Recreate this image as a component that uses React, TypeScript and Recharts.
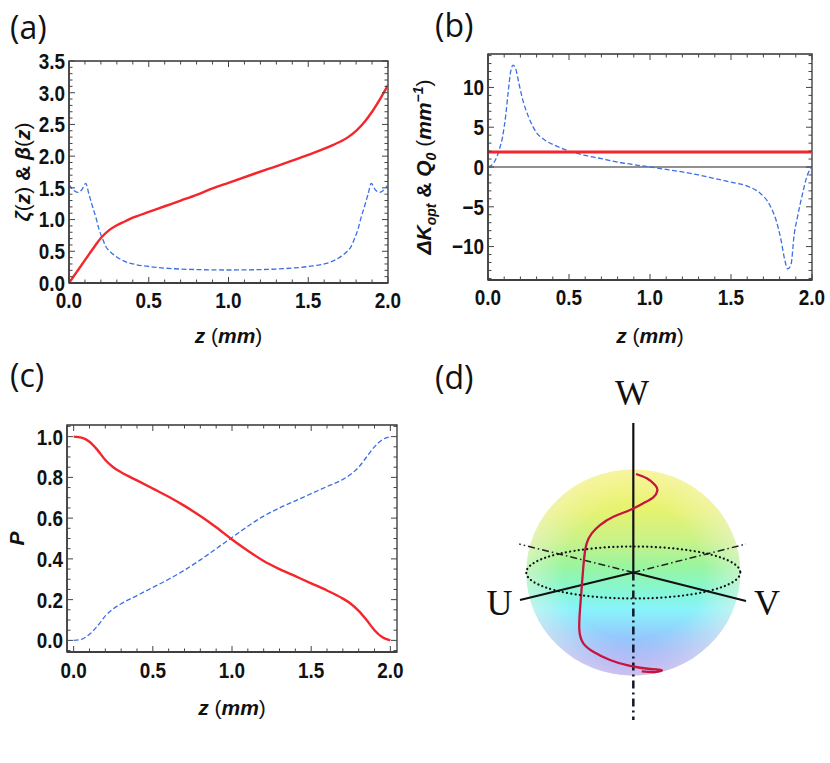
import React from "react";
import { Line, LineChart, ReferenceArea, ReferenceDot, ReferenceLine, XAxis, YAxis } from "recharts";

// (a) zeta(z) and beta(z)
const zetaZ = [0, 0.05, 0.1, 0.15, 0.2, 0.25, 0.3, 0.35, 0.4, 0.5, 0.6, 0.7, 0.8, 0.9, 1.0, 1.25, 1.5, 1.65, 1.75, 1.8, 1.85, 1.9, 1.95, 2.0];
const zetaVal = [0, 0.18, 0.36, 0.54, 0.71, 0.83, 0.91, 0.97, 1.03, 1.12, 1.21, 1.3, 1.39, 1.49, 1.58, 1.8, 2.02, 2.17, 2.3, 2.4, 2.53, 2.7, 2.9, 3.12];
const betaZ = [0, 0.03, 0.055, 0.08, 0.105, 0.125, 0.147, 0.17, 0.189, 0.21, 0.23, 0.26, 0.294, 0.35, 0.42, 0.5, 0.6, 0.75, 1.0, 1.25, 1.4, 1.5, 1.58, 1.65, 1.706, 1.74, 1.77, 1.79, 1.811, 1.83, 1.853, 1.875, 1.895, 1.92, 1.945, 1.97, 2.0];
const betaVal = [1.55, 1.46, 1.43, 1.47, 1.57, 1.4, 1.21, 1.02, 0.84, 0.7, 0.58, 0.49, 0.42, 0.34, 0.29, 0.26, 0.235, 0.215, 0.205, 0.215, 0.235, 0.26, 0.29, 0.34, 0.42, 0.49, 0.58, 0.7, 0.84, 1.02, 1.21, 1.4, 1.57, 1.47, 1.43, 1.46, 1.55];

// (b) delta K_opt and Q0
const dkZ = [0, 0.02, 0.045, 0.07, 0.09, 0.11, 0.125, 0.14, 0.155, 0.17, 0.19, 0.21, 0.25, 0.3, 0.35, 0.42, 0.5, 0.6, 0.7, 0.8, 0.9, 1.0, 1.1, 1.2, 1.3, 1.4, 1.5, 1.6, 1.68, 1.74, 1.78, 1.81, 1.83, 1.85, 1.87, 1.89, 1.91, 1.94, 1.97, 2.0];
const dkVal = [0, 0.2, 0.84, 2.2, 3.8, 6.6, 9.5, 12.0, 12.8, 12.4, 10.6, 8.8, 6.3, 4.3, 3.4, 2.65, 2.0, 1.45, 1.05, 0.62, 0.3, 0, -0.3, -0.62, -1.0, -1.45, -1.9, -2.4, -3.3, -4.8, -6.8, -9.3, -11.5, -12.8, -12.3, -8.5, -6.3, -3.5, -1.1, 0];
const q0Z = [0, 2];
const q0Val = [1.9, 1.9];

// (c) populations
const pZ = [0, 0.05, 0.1, 0.15, 0.2, 0.25, 0.3, 0.4, 0.5, 0.6, 0.7, 0.8, 0.9, 1.0, 1.1, 1.2, 1.3, 1.4, 1.5, 1.6, 1.7, 1.75, 1.8, 1.85, 1.9, 1.95, 2.0];
const pRed = [1.0, 0.995, 0.975, 0.935, 0.885, 0.85, 0.825, 0.785, 0.745, 0.705, 0.66, 0.61, 0.555, 0.495, 0.44, 0.39, 0.35, 0.315, 0.28, 0.245, 0.205, 0.18, 0.145, 0.1, 0.05, 0.015, 0];
const pBlue = [0, 0.005, 0.03, 0.07, 0.12, 0.155, 0.18, 0.22, 0.26, 0.3, 0.345, 0.395, 0.45, 0.505, 0.56, 0.61, 0.65, 0.685, 0.72, 0.755, 0.79, 0.815, 0.85, 0.9, 0.95, 0.985, 1.0];

// (d) trajectory on the sphere (projected, sphere radius = 1)
const pathU = [0.026, 0.128, 0.207, 0.229, 0.19, 0.095, -0.031, -0.19, -0.317, -0.396, -0.444, -0.47, -0.491, -0.508, -0.514, -0.476, -0.381, -0.222, -0.031, 0.159, 0.27, 0.207, 0.08];
const pathW = [0.938, 0.897, 0.833, 0.779, 0.716, 0.659, 0.595, 0.531, 0.452, 0.373, 0.278, 0.119, -0.135, -0.357, -0.548, -0.674, -0.754, -0.833, -0.89, -0.919, -0.929, -0.948, -0.941];
const solidAxes = [
  [0, 1.424, 0, 0],
  [-1.079, -0.262, 0, 0],
  [1.073, -0.271, 0, 0],
];
const backAxes = [
  [0, 0, 1.073, 0.271],
  [0, 0, -1.086, 0.271],
];
const downAxis = [0, 0, 0, -1.405];
const axisNames = ["W", "U", "V"];
const axisNameU = [-0.012, -1.274, 1.273];
const axisNameW = [1.719, -0.281, -0.281];

const zMajor = [0, 0.5, 1.0, 1.5, 2.0];
const aMajor = [0, 0.5, 1.0, 1.5, 2.0, 2.5, 3.0, 3.5];
const bMajor = [-10, -5, 0, 5, 10];
const cMajor = [0, 0.2, 0.4, 0.6, 0.8, 1.0];

const RED = "#f4262b";
const BLUE = "#3b6fe6";
const AXIS = { stroke: "#333", strokeWidth: 1.3 };
const SPHERE_X: [number, number] = [-1.841, 1.873];
const SPHERE_Y: [number, number] = [-1.814, 2.214];

const range = (from: number, to: number, step: number) => {
  const out: number[] = [];
  for (let v = from; v <= to + 1e-9; v += step) out.push(Math.round(v * 1000) / 1000);
  return out;
};
const rows = (xs: number[], ys: number[]) => xs.map((z, i) => ({ z, v: ys[i] }));

const TICK_SIZE = 22;
const TICK_FONT = {
  fontFamily: "'Liberation Sans', Arial, sans-serif",
  fontWeight: 700,
  fontSize: TICK_SIZE,
  fill: "#111",
};
const TITLE_FONT = {
  fontFamily: "'Liberation Sans', Arial, sans-serif",
  fontWeight: 700,
  fontSize: 21,
  fill: "#111",
};

// squeeze the Arial-like digits a bit, the original uses a narrow bold face
const narrowWidth = (s: string) =>
  s.split("").reduce((w, c) => w + (c === "." ? 0.278 : c === "\u2212" ? 0.584 : 0.556), 0) * TICK_SIZE * 0.86;

const fmt1 = (v: number) => v.toFixed(1);
const fmtInt = (v: number) => (v < 0 ? "\u2212" + Math.abs(v) : String(v));

function makeTick(side: string, majors: number[], span: number, fmt: (v: number) => string, gap: number) {
  return (p: any) => {
    const v = Number(p.payload.value);
    const major = majors.some((m) => Math.abs(m - v) < 1e-6);
    const len = major ? 6 : 3.5;
    const { x, y } = p;
    const label = fmt(v);
    if (side === "bottom") {
      return (
        <g>
          <line x1={x} y1={y} x2={x} y2={y - len} stroke="#444" strokeWidth={1} />
          <line x1={x} y1={y - span} x2={x} y2={y - span + len} stroke="#444" strokeWidth={1} />
          {major ? (
            <text x={x} y={y + gap} dy="0.36em" textAnchor="middle" textLength={narrowWidth(label)} lengthAdjust="spacingAndGlyphs" {...TICK_FONT}>
              {label}
            </text>
          ) : null}
        </g>
      );
    }
    return (
      <g>
        <line x1={x} y1={y} x2={x + len} y2={y} stroke="#444" strokeWidth={1} />
        <line x1={x + span} y1={y} x2={x + span - len} y2={y} stroke="#444" strokeWidth={1} />
        {major ? (
          <text x={x - 4} y={y} dy="0.36em" textAnchor="end" textLength={narrowWidth(label)} lengthAdjust="spacingAndGlyphs" {...TICK_FONT}>
            {label}
          </text>
        ) : null}
      </g>
    );
  };
}

const XTitle = ({ vb, dy }: any) => (
  <text x={vb.x + vb.width / 2} y={vb.y + dy} dy="0.36em" textAnchor="middle" {...TITLE_FONT}>
    <tspan fontStyle="italic">z</tspan>
    <tspan fontWeight={400}> (</tspan>
    <tspan fontStyle="italic">mm</tspan>
    <tspan fontWeight={400}>)</tspan>
  </text>
);

interface PanelProps {
  left: number;
  top: number;
  width: number;
  height: number;
  margin: { top: number; right: number; bottom: number; left: number };
  yAxisWidth: number;
  xAxisHeight: number;
  xDomain: [number, number];
  yDomain: [number, number];
  xMinor: number[];
  yMajor: number[];
  yMinor: number[];
  yFmt: (v: number) => string;
  xTickGap: number;
  xTitleDy: number;
  yTitleX: number;
  yTitle: React.ReactNode;
  children: React.ReactNode;
}

function Panel(p: PanelProps) {
  const plotW = p.width - p.margin.left - p.margin.right - p.yAxisWidth;
  const plotH = p.height - p.margin.top - p.margin.bottom - p.xAxisHeight;
  return (
    <div style={{ position: "absolute", left: p.left, top: p.top }}>
      <LineChart width={p.width} height={p.height} margin={p.margin}>
        <XAxis
          type="number"
          dataKey="z"
          domain={p.xDomain}
          ticks={p.xMinor}
          interval={0}
          tickLine={false}
          tickSize={0}
          tickMargin={0}
          axisLine={AXIS}
          height={p.xAxisHeight}
          allowDataOverflow
          tick={makeTick("bottom", zMajor, plotH, fmt1, p.xTickGap)}
          label={(lp: any) => <XTitle vb={lp.viewBox} dy={p.xTitleDy} />}
        />
        <YAxis
          type="number"
          domain={p.yDomain}
          ticks={p.yMinor}
          interval={0}
          tickLine={false}
          tickSize={0}
          tickMargin={0}
          axisLine={AXIS}
          width={p.yAxisWidth}
          allowDataOverflow
          tick={makeTick("left", p.yMajor, plotW, p.yFmt, 0)}
          label={(lp: any) => {
            const vb = lp.viewBox;
            const cx = vb.x + p.yTitleX;
            const cy = vb.y + vb.height / 2;
            return (
              <text
                x={cx}
                y={cy}
                dy="0.36em"
                textAnchor="middle"
                transform={`rotate(-90 ${cx} ${cy})`}
                {...TITLE_FONT}
              >
                {p.yTitle}
              </text>
            );
          }}
        />
        <ReferenceArea
          x1={p.xDomain[0]}
          x2={p.xDomain[1]}
          y1={p.yDomain[0]}
          y2={p.yDomain[1]}
          fill="none"
          stroke="#333"
          strokeWidth={1.3}
          ifOverflow="visible"
        />
        {p.children}
      </LineChart>
    </div>
  );
}

const SphereShape = (p: any) => (
  <g>
    <defs>
      <linearGradient id="sphereFill" x1="0" y1="0" x2="0" y2="1">
        <stop offset="0" stopColor="#f0f566" />
        <stop offset="0.2" stopColor="#e6f270" />
        <stop offset="0.35" stopColor="#c8f28a" />
        <stop offset="0.47" stopColor="#99f59e" />
        <stop offset="0.58" stopColor="#86f7d0" />
        <stop offset="0.68" stopColor="#88f3fb" />
        <stop offset="0.8" stopColor="#93cdfd" />
        <stop offset="0.92" stopColor="#9eaaf8" />
        <stop offset="1" stopColor="#a596f4" />
      </linearGradient>
      <radialGradient id="sphereShade" cx="0.5" cy="0.5" r="0.5">
        <stop offset="0.65" stopColor="#fff8f0" stopOpacity="0" />
        <stop offset="1" stopColor="#fff4e8" stopOpacity="0.45" />
      </radialGradient>
    </defs>
    <ellipse cx={p.cx} cy={p.cy} rx={107} ry={103} fill="url(#sphereFill)" />
    <ellipse cx={p.cx} cy={p.cy} rx={107} ry={103} fill="url(#sphereShade)" />
  </g>
);

const EquatorShape = (p: any) => (
  <ellipse
    cx={p.cx}
    cy={p.cy}
    rx={107}
    ry={26}
    fill="none"
    stroke="#111"
    strokeWidth={2.2}
    strokeDasharray="0.1 4.2"
    strokeLinecap="round"
  />
);

const nameShape = (name: string) => (p: any) => (
  <text
    x={p.cx}
    y={p.cy}
    dy="0.35em"
    textAnchor="middle"
    fontFamily="'Liberation Serif', 'Times New Roman', serif"
    fontSize={36}
    fill="#111"
  >
    {name}
  </text>
);

const SPHERE_BOX = { position: "absolute" as const, left: 440, top: 340 };
const NO_MARGIN = { top: 0, right: 0, bottom: 0, left: 0 };

function SpherePanel() {
  const data = pathU.map((u, i) => ({ u, w: pathW[i] }));
  return (
    <>
      {/* back layer: the shaded sphere and its equator */}
      <div style={SPHERE_BOX}>
        <LineChart width={390} height={423} margin={NO_MARGIN} data={data}>
          <XAxis type="number" dataKey="u" domain={SPHERE_X} hide allowDataOverflow />
          <YAxis type="number" domain={SPHERE_Y} hide allowDataOverflow />
          <ReferenceDot x={0} y={0} r={1} shape={SphereShape} ifOverflow="visible" />
        </LineChart>
      </div>
      {/* front layer: axes, trajectory, names */}
      <div style={SPHERE_BOX}>
        <LineChart width={390} height={423} margin={NO_MARGIN} data={data}>
          <XAxis type="number" dataKey="u" domain={SPHERE_X} hide allowDataOverflow />
          <YAxis type="number" domain={SPHERE_Y} hide allowDataOverflow />
          <ReferenceDot x={0} y={0} r={1} shape={EquatorShape} ifOverflow="visible" />
          {backAxes.map((s, i) => (
            <ReferenceLine
              key={"b" + i}
              segment={[{ x: s[0], y: s[1] }, { x: s[2], y: s[3] }]}
              stroke="#222"
              strokeWidth={1.5}
              strokeDasharray="7 3 1.5 3"
              ifOverflow="visible"
            />
          ))}
          <ReferenceLine
            segment={[{ x: downAxis[0], y: downAxis[1] }, { x: downAxis[2], y: downAxis[3] }]}
            stroke="#101828"
            strokeWidth={2.5}
            strokeDasharray="8 4 2 4"
            ifOverflow="visible"
          />
          {solidAxes.map((s, i) => (
            <ReferenceLine
              key={"s" + i}
              segment={[{ x: s[0], y: s[1] }, { x: s[2], y: s[3] }]}
              stroke="#111"
              strokeWidth={2.2}
              ifOverflow="visible"
            />
          ))}
          <Line
            dataKey="w"
            type="natural"
            stroke="#c8143c"
            strokeWidth={2.3}
            dot={false}
            isAnimationActive={false}
          />
          {axisNames.map((n, i) => (
            <ReferenceDot key={n} x={axisNameU[i]} y={axisNameW[i]} r={1} shape={nameShape(n)} ifOverflow="visible" />
          ))}
        </LineChart>
      </div>
    </>
  );
}

const LETTER = {
  position: "absolute" as const,
  fontFamily: "'Open Sans', 'Noto Sans', sans-serif",
  fontSize: 32,
  lineHeight: 1,
  color: "#111",
};

export default function App() {
  return (
    <div style={{ position: "absolute", left: 0, top: 0, width: 830, height: 763, background: "#fff" }}>
      <div style={{ ...LETTER, left: 10, top: 11 }}>(a)</div>
      <div style={{ ...LETTER, left: 435, top: 9 }}>(b)</div>
      <div style={{ ...LETTER, left: 10, top: 359 }}>(c)</div>
      <div style={{ ...LETTER, left: 435, top: 361 }}>(d)</div>

      <Panel
        left={0}
        top={0}
        width={415}
        height={350}
        margin={{ top: 61, right: 27, bottom: 0, left: 0 }}
        yAxisWidth={69}
        xAxisHeight={67}
        xDomain={[0, 2]}
        yDomain={[0, 3.5]}
        xMinor={range(0, 2, 0.1)}
        yMajor={aMajor}
        yMinor={range(0, 3.5, 0.1)}
        yFmt={fmt1}
        xTickGap={17}
        xTitleDy={52}
        yTitleX={22}
        yTitle={
          <>
            <tspan fontStyle="italic">ζ</tspan>
            <tspan fontWeight={400}>(</tspan>
            <tspan fontStyle="italic">z</tspan>
            <tspan fontWeight={400}>)</tspan>
            <tspan> &amp; </tspan>
            <tspan fontStyle="italic">β</tspan>
            <tspan fontWeight={400}>(</tspan>
            <tspan fontStyle="italic">z</tspan>
            <tspan fontWeight={400}>)</tspan>
          </>
        }
      >
        <Line data={rows(betaZ, betaVal)} dataKey="v" type="monotone" stroke={BLUE} strokeWidth={1.3} strokeDasharray="5 2.5" dot={false} isAnimationActive={false} />
        <Line data={rows(zetaZ, zetaVal)} dataKey="v" type="monotone" stroke={RED} strokeWidth={2.4} dot={false} isAnimationActive={false} />
      </Panel>

      <Panel
        left={400}
        top={0}
        width={430}
        height={350}
        margin={{ top: 54, right: 18, bottom: 0, left: 0 }}
        yAxisWidth={88}
        xAxisHeight={70}
        xDomain={[0, 2]}
        yDomain={[-14.2, 14.2]}
        xMinor={range(0, 2, 0.1)}
        yMajor={bMajor}
        yMinor={range(-14, 14, 1)}
        yFmt={fmtInt}
        xTickGap={17}
        xTitleDy={55}
        yTitleX={23}
        yTitle={
          <>
            <tspan fontStyle="italic">ΔK</tspan>
            <tspan fontStyle="italic" fontSize={14} dy={5}>opt</tspan>
            <tspan dy={-5}> &amp; </tspan>
            <tspan fontStyle="italic">Q</tspan>
            <tspan fontStyle="italic" fontSize={14} dy={5}>0</tspan>
            <tspan fontWeight={400} dy={-5}> (</tspan>
            <tspan fontStyle="italic">mm</tspan>
            <tspan fontStyle="italic" fontSize={14} dy={-8}>−1</tspan>
            <tspan fontWeight={400} dy={8}>)</tspan>
          </>
        }
      >
        <ReferenceLine y={0} stroke="#222" strokeWidth={1} />
        <Line data={rows(dkZ, dkVal)} dataKey="v" type="monotone" stroke={BLUE} strokeWidth={1.3} strokeDasharray="5 2.5" dot={false} isAnimationActive={false} />
        <Line data={rows(q0Z, q0Val)} dataKey="v" type="linear" stroke={RED} strokeWidth={3} dot={false} isAnimationActive={false} />
      </Panel>

      <Panel
        left={0}
        top={330}
        width={415}
        height={400}
        margin={{ top: 95, right: 18, bottom: 0, left: 0 }}
        yAxisWidth={67}
        xAxisHeight={78}
        xDomain={[-0.042, 2.042]}
        yDomain={[-0.057, 1.057]}
        xMinor={range(0, 2, 0.1)}
        yMajor={cMajor}
        yMinor={range(-0.05, 1.05, 0.05)}
        yFmt={fmt1}
        xTickGap={18}
        xTitleDy={55}
        yTitleX={16}
        yTitle={<tspan fontStyle="italic">P</tspan>}
      >
        <Line data={rows(pZ, pBlue)} dataKey="v" type="monotone" stroke={BLUE} strokeWidth={1.3} strokeDasharray="5 2.5" dot={false} isAnimationActive={false} />
        <Line data={rows(pZ, pRed)} dataKey="v" type="monotone" stroke={RED} strokeWidth={2.4} dot={false} isAnimationActive={false} />
      </Panel>

      <SpherePanel />
    </div>
  );
}
